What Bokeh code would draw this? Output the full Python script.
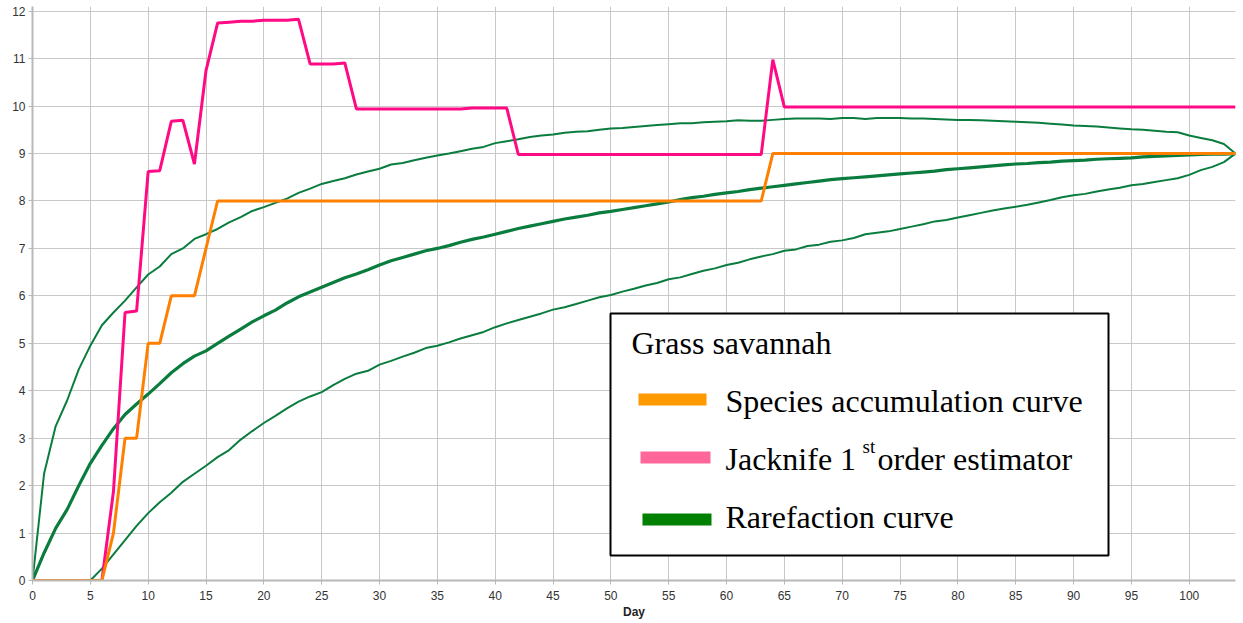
from bokeh.plotting import figure
from bokeh.models import FixedTicker, BoxAnnotation, Label, Range1d
from bokeh.embed import file_html
from bokeh.resources import INLINE

# ---------------- data ----------------
days = list(range(0, 105))

species_accumulation = [
    0, 0, 0, 0, 0, 0, 0, 1, 3, 3,
    5, 5, 6, 6, 6, 7, 8, 8, 8, 8,
    8, 8, 8, 8, 8, 8, 8, 8, 8, 8,
    8, 8, 8, 8, 8, 8, 8, 8, 8, 8,
    8, 8, 8, 8, 8, 8, 8, 8, 8, 8,
    8, 8, 8, 8, 8, 8, 8, 8, 8, 8,
    8, 8, 8, 8, 9, 9, 9, 9, 9, 9,
    9, 9, 9, 9, 9, 9, 9, 9, 9, 9,
    9, 9, 9, 9, 9, 9, 9, 9, 9, 9,
    9, 9, 9, 9, 9, 9, 9, 9, 9, 9,
    9, 9, 9, 9, 9]

jacknife_1st = [
    0, 0, 0, 0, 0, 0, 0, 1.88, 5.65, 5.68,
    8.62, 8.64, 9.68, 9.70, 8.78, 10.75, 11.75, 11.77, 11.79, 11.79,
    11.81, 11.81, 11.81, 11.83, 10.89, 10.89, 10.89, 10.91, 9.94, 9.94,
    9.94, 9.94, 9.94, 9.94, 9.94, 9.94, 9.94, 9.94, 9.96, 9.96,
    9.96, 9.96, 8.98, 8.98, 8.98, 8.98, 8.98, 8.98, 8.98, 8.98,
    8.98, 8.98, 8.98, 8.98, 8.98, 8.98, 8.98, 8.98, 8.98, 8.98,
    8.98, 8.98, 8.98, 8.98, 10.98, 9.98, 9.98, 9.98, 9.98, 9.98,
    9.98, 9.98, 9.98, 9.98, 9.98, 9.98, 9.98, 9.98, 9.98, 9.98,
    9.98, 9.98, 9.98, 9.98, 9.98, 9.98, 9.98, 9.98, 9.98, 9.98,
    9.98, 9.98, 9.98, 9.98, 9.98, 9.98, 9.98, 9.98, 9.98, 9.98,
    9.98, 9.98, 9.98, 9.98, 9.98]

rarefaction_mean = [
    0.00, 0.58, 1.10, 1.50, 2.00, 2.47, 2.85, 3.20, 3.50, 3.72,
    3.93, 4.15, 4.38, 4.57, 4.73, 4.84, 5.00, 5.15, 5.30, 5.45,
    5.58, 5.70, 5.85, 5.98, 6.08, 6.18, 6.28, 6.38, 6.46, 6.55,
    6.65, 6.74, 6.81, 6.88, 6.95, 7.00, 7.06, 7.13, 7.19, 7.24,
    7.30, 7.36, 7.42, 7.47, 7.52, 7.57, 7.62, 7.66, 7.70, 7.75,
    7.78, 7.82, 7.86, 7.90, 7.94, 7.98, 8.03, 8.07, 8.10, 8.14,
    8.17, 8.20, 8.24, 8.27, 8.30, 8.33, 8.36, 8.39, 8.42, 8.45,
    8.47, 8.49, 8.51, 8.53, 8.55, 8.57, 8.59, 8.61, 8.63, 8.66,
    8.68, 8.70, 8.72, 8.74, 8.76, 8.78, 8.79, 8.81, 8.82, 8.84,
    8.85, 8.86, 8.88, 8.89, 8.90, 8.91, 8.93, 8.94, 8.95, 8.96,
    8.97, 8.98, 8.99, 8.99, 9.00]

rarefaction_upper = [
    0.00, 2.25, 3.25, 3.80, 4.45, 4.95, 5.38, 5.65, 5.90, 6.18,
    6.45, 6.62, 6.88, 7.00, 7.20, 7.30, 7.41, 7.55, 7.66, 7.79,
    7.87, 7.96, 8.05, 8.17, 8.26, 8.36, 8.42, 8.48, 8.56, 8.62,
    8.68, 8.77, 8.80, 8.86, 8.91, 8.96, 9.00, 9.05, 9.10, 9.14,
    9.22, 9.26, 9.30, 9.35, 9.38, 9.40, 9.44, 9.46, 9.47, 9.50,
    9.53, 9.54, 9.56, 9.58, 9.60, 9.62, 9.64, 9.64, 9.66, 9.67,
    9.68, 9.70, 9.69, 9.69, 9.71, 9.73, 9.74, 9.74, 9.74, 9.73,
    9.75, 9.75, 9.73, 9.75, 9.75, 9.75, 9.74, 9.74, 9.73, 9.72,
    9.71, 9.71, 9.70, 9.69, 9.68, 9.67, 9.66, 9.65, 9.63, 9.61,
    9.59, 9.58, 9.57, 9.55, 9.53, 9.51, 9.50, 9.48, 9.46, 9.45,
    9.38, 9.33, 9.28, 9.20, 9.00]

rarefaction_lower = [
    0.00, 0.00, 0.00, 0.00, 0.00, 0.00, 0.25, 0.55, 0.85, 1.15,
    1.42, 1.65, 1.85, 2.08, 2.25, 2.42, 2.60, 2.75, 2.97, 3.15,
    3.32, 3.47, 3.63, 3.77, 3.88, 3.97, 4.12, 4.25, 4.36, 4.42,
    4.55, 4.63, 4.72, 4.80, 4.90, 4.95, 5.02, 5.10, 5.17, 5.24,
    5.34, 5.42, 5.49, 5.56, 5.63, 5.71, 5.76, 5.83, 5.90, 5.97,
    6.02, 6.09, 6.15, 6.22, 6.27, 6.35, 6.39, 6.46, 6.53, 6.58,
    6.65, 6.70, 6.77, 6.83, 6.88, 6.95, 6.98, 7.05, 7.08, 7.14,
    7.17, 7.22, 7.30, 7.33, 7.36, 7.41, 7.46, 7.51, 7.57, 7.60,
    7.65, 7.70, 7.75, 7.80, 7.84, 7.88, 7.92, 7.97, 8.02, 8.08,
    8.12, 8.15, 8.20, 8.24, 8.28, 8.33, 8.36, 8.40, 8.44, 8.48,
    8.55, 8.65, 8.72, 8.82, 9.00]

x_ticks = [0, 5, 10, 15, 20, 25, 30, 35, 40, 45, 50, 55, 60, 65, 70, 75,
           80, 85, 90, 95, 100]
y_ticks = [0, 1, 2, 3, 4, 5, 6, 7, 8, 9, 10, 11, 12]

legend_title = "Grass savannah"
legend_labels = ["Species accumulation curve", "Jacknife 1", "st",
                 "order estimator", "Rarefaction curve"]

# ---------------- layout ----------------
W, H = 1243, 623
FL, FR, FT, FB = 32, 1235, 6, 580
X_END, Y_END = 104, 12.1


def dx(px):
    return (px - FL) / (FR - FL) * X_END


def dy(py):
    return (FB - py) / (FB - FT) * Y_END


p = figure(width=W, height=H, output_backend="svg", toolbar_location=None,
           x_range=Range1d(0, X_END), y_range=Range1d(0, Y_END),
           min_border_left=FL, min_border_right=W - FR,
           min_border_top=FT, min_border_bottom=H - FB)
p.outline_line_color = None
p.background_fill_color = "white"
p.border_fill_color = "white"

for ax in (p.xaxis[0], p.yaxis[0]):
    ax.axis_line_color = "#b8b8b8"
    ax.axis_line_width = 2
    ax.major_tick_line_color = "#b8b8b8"
    ax.major_tick_out = 4
    ax.major_tick_in = 0
    ax.minor_tick_line_color = None
    ax.major_label_text_font = "Liberation Sans"
    ax.major_label_text_font_size = "12px"
    ax.major_label_text_color = "#333333"

p.xaxis.ticker = FixedTicker(ticks=x_ticks)
p.yaxis.ticker = FixedTicker(ticks=y_ticks)
p.xaxis.major_label_standoff = 6
p.yaxis.major_label_standoff = 3
p.xaxis.axis_label = "Day"
p.xaxis.axis_label_text_font = "Liberation Sans"
p.xaxis.axis_label_text_font_style = "bold"
p.xaxis.axis_label_text_font_size = "12px"
p.xaxis.axis_label_text_color = "#222222"
p.xaxis.axis_label_standoff = 2

p.xgrid.grid_line_color = "#c8c8c8"
p.ygrid.grid_line_color = "#c8c8c8"
p.xgrid.grid_line_width = 1
p.ygrid.grid_line_width = 1

GREEN = "#0a7d3e"
p.line(days, rarefaction_upper, line_color=GREEN, line_width=2)
p.line(days, rarefaction_lower, line_color=GREEN, line_width=2)
p.line(days, rarefaction_mean, line_color=GREEN, line_width=3.2)
p.line(days, jacknife_1st, line_color="#ff0a84", line_width=3)
p.line(days, species_accumulation, line_color="#ff8000", line_width=3)

# ---------------- legend (drawn by hand for the superscript) ----------------
p.add_layout(BoxAnnotation(left=dx(610), right=dx(1108), top=dy(313), bottom=dy(555),
                           fill_color="white", fill_alpha=1.0,
                           line_color="black", line_width=2, line_alpha=1.0))

bars = [("#ff9900", 638, 706, 393, 405), ("#ff6699", 640, 710, 451, 463),
        ("#008000", 642, 711, 513, 525)]
for col, l, r, t, b in bars:
    p.add_layout(BoxAnnotation(left=dx(l), right=dx(r), top=dy(t), bottom=dy(b),
                               fill_color=col, fill_alpha=1.0, line_color=None))

SERIF = "Liberation Serif"
SHIFT = 12


def lab(text, px, py, size):
    p.add_layout(Label(x=dx(px), y=dy(py - SHIFT), text=text, text_font=SERIF,
                       text_font_size=size, text_color="black",
                       text_baseline="alphabetic", text_align="left"))


lab(legend_title, 631, 354, "32px")
lab(legend_labels[0], 725, 412, "32px")
lab(legend_labels[1], 725, 470, "32px")
lab(legend_labels[2], 862, 458, "19px")
lab(legend_labels[3], 877, 470, "32px")
lab(legend_labels[4], 725, 528, "32px")

open("out.html", "w").write(file_html(p, INLINE))
